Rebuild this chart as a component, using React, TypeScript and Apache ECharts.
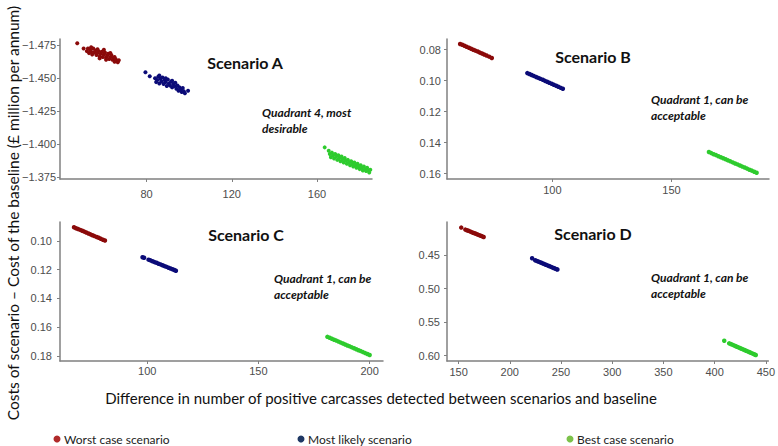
import React, { useEffect, useRef } from "react";
import * as echarts from "echarts";

// ---------- data ----------
const seriesNames = ["Worst case scenario", "Most likely scenario", "Best case scenario"];
const pointColors = ["#8b0a0a", "#0b0b78", "#2ecb2e"];
const legendColors = ["#b02a2a", "#1f3864", "#7cc24a"];

const panelTitles = ["Scenario A", "Scenario B", "Scenario C", "Scenario D"];
const panelNotes = [
  ["Quadrant 4, most", "desirable"],
  ["Quadrant 1, can be", "acceptable"],
  ["Quadrant 1, can be", "acceptable"],
  ["Quadrant 1, can be", "acceptable"],
];

const xTicksA = [80, 120, 160];
const xTicksB = [100, 150];
const xTicksC = [100, 150, 200];
const xTicksD = [150, 200, 250, 300, 350, 400, 450];
const yTicksA = [-1.475, -1.45, -1.425, -1.4, -1.375];
const yTicksB = [0.08, 0.1, 0.12, 0.14, 0.16];
const yTicksC = [0.1, 0.12, 0.14, 0.16, 0.18];
const yTicksD = [0.45, 0.5, 0.55, 0.6];

const xRangeA = [39.4, 185.8];
const xRangeB = [55.8, 190.9];
const xRangeC = [60.8, 206];
const xRangeD = [138.7, 452.5];
const yRangeA = [-1.4797, -1.3735];
const yRangeB = [0.0731, 0.1634];
const yRangeC = [0.0868, 0.1835];
const yRangeD = [0.401, 0.6079];

const worstA = [[47.5,-1.4765],[50.5,-1.4725],[52,-1.4705],[52.5,-1.4725],[53,-1.469],[53.5,-1.4715],[54,-1.47],[54.5,-1.468],[55,-1.4725],[55.5,-1.4695],[56,-1.471],[56.5,-1.4675],[57,-1.469],[57.5,-1.4705],[58,-1.4665],[58.5,-1.4685],[59,-1.47],[59.5,-1.466],[60,-1.468],[60.5,-1.4695],[61,-1.4655],[61.5,-1.467],[62,-1.4685],[62.5,-1.4645],[63,-1.466],[63.5,-1.4675],[64,-1.464],[64.5,-1.4655],[65,-1.4625],[65.5,-1.4645],[66,-1.463],[66.5,-1.462],[67,-1.4635],[54,-1.4735],[57,-1.472],[60,-1.4715],[63,-1.469],[58,-1.465],[61,-1.464],[65,-1.466]];
const likelyA = [[79.5,-1.4545],[81.5,-1.4515],[84,-1.45],[84.5,-1.447],[85,-1.4485],[85.5,-1.451],[86,-1.446],[86.5,-1.4495],[87,-1.4475],[87.5,-1.4505],[88,-1.4455],[88.5,-1.4485],[89,-1.447],[89.5,-1.444],[90,-1.449],[90.5,-1.446],[91,-1.4445],[91.5,-1.4475],[92,-1.443],[92.5,-1.4455],[93,-1.444],[93.5,-1.4465],[94,-1.442],[94.5,-1.4445],[95,-1.4405],[95.5,-1.443],[96,-1.4415],[96.5,-1.4395],[97,-1.4425],[97.5,-1.44],[98,-1.4385],[99.5,-1.4405],[86,-1.452],[89,-1.45],[92,-1.448]];
const bestA = [[163.6,-1.3975],[165.5,-1.395],[166,-1.3925],[166.5,-1.39],[167,-1.3935],[167.5,-1.3915],[168,-1.389],[168.5,-1.3925],[169,-1.3905],[169.5,-1.388],[170,-1.3915],[170.5,-1.3895],[171,-1.387],[171.5,-1.3905],[172,-1.3885],[172.5,-1.386],[173,-1.3895],[173.5,-1.3875],[174,-1.385],[174.5,-1.388],[175,-1.386],[175.5,-1.384],[176,-1.387],[176.5,-1.385],[177,-1.383],[177.5,-1.386],[178,-1.384],[178.5,-1.382],[179,-1.385],[179.5,-1.383],[180,-1.381],[180.5,-1.384],[181,-1.382],[181.5,-1.38],[182,-1.383],[182.5,-1.381],[183,-1.3795],[183.5,-1.382],[184,-1.38],[184.5,-1.3785],[185,-1.3805]];

const worstB = [[61.3,0.0763],[62.2,0.0768],[63.1,0.0775],[64.0,0.0781],[65.0,0.0787],[65.9,0.0794],[66.8,0.08],[67.7,0.0806],[68.7,0.0812],[69.6,0.0819],[70.5,0.0825],[71.4,0.0831],[72.4,0.0837],[73.5,0.0845],[74.6,0.0854]];
const likelyB = [[89.5,0.0951],[90.4,0.0957],[91.3,0.0963],[92.2,0.0969],[93.2,0.0976],[94.1,0.0982],[95.0,0.0988],[96.0,0.0994],[96.9,0.1001],[97.8,0.1007],[98.7,0.1013],[99.7,0.102],[100.6,0.1026],[101.6,0.1033],[102.5,0.1039],[103.5,0.1046],[104.4,0.1052]];
const bestB = [[165.7,0.146],[166.7,0.1467],[167.7,0.1474],[168.7,0.148],[169.7,0.1487],[170.7,0.1494],[171.7,0.15],[172.7,0.1507],[173.7,0.1514],[174.7,0.152],[175.7,0.1527],[176.7,0.1534],[177.7,0.154],[178.7,0.1547],[179.7,0.1554],[180.7,0.156],[181.7,0.1567],[182.7,0.1574],[183.7,0.158],[184.7,0.1587],[185.7,0.1594]];

const worstC = [[67.1,0.0905],[68.0,0.0911],[68.9,0.0917],[69.9,0.0923],[70.8,0.0929],[71.7,0.0935],[72.6,0.0941],[73.6,0.0948],[74.5,0.0954],[75.4,0.096],[76.3,0.0966],[77.3,0.0972],[78.2,0.0978],[79.1,0.0985],[80.1,0.0991],[81.0,0.0997]];
const likelyC = [[97.9,0.1113],[98.6,0.1117],[100.6,0.113],[101.5,0.1135],[102.4,0.1141],[103.3,0.1147],[104.2,0.1152],[105.1,0.1158],[106.0,0.1163],[106.9,0.1169],[107.8,0.1175],[108.7,0.118],[109.6,0.1186],[110.5,0.1192],[111.4,0.1197],[112.2,0.1202],[112.9,0.1207]];
const bestC = [[181,0.1667],[182,0.1673],[183,0.168],[184,0.1687],[185,0.1693],[186,0.17],[187,0.1707],[188,0.1713],[189,0.172],[190,0.1727],[191,0.1733],[192,0.174],[193,0.1746],[194,0.1753],[195,0.176],[196,0.1766],[197,0.1773],[198,0.178],[199,0.1786],[200,0.1793]];

const worstD = [[152.6,0.4093],[156.6,0.4123],[158.1,0.4132],[159.6,0.4141],[161.1,0.415],[162.6,0.416],[164.1,0.4169],[165.6,0.4178],[167.1,0.4187],[168.6,0.4197],[170.1,0.4206],[171.6,0.4215],[173.1,0.4224],[174.5,0.4233]];
const likelyD = [[221.8,0.4549],[224.8,0.4579],[226.3,0.4589],[227.8,0.4598],[229.3,0.4608],[230.8,0.4617],[232.3,0.4627],[233.8,0.4637],[235.3,0.4646],[236.8,0.4656],[238.3,0.4665],[239.8,0.4675],[241.3,0.4685],[242.8,0.4694],[244.3,0.4704],[245.5,0.4712],[246.5,0.4718]];
const bestD = [[409.4,0.5777],[414.2,0.5816],[415.7,0.5826],[417.2,0.5836],[418.7,0.5846],[420.2,0.5856],[421.7,0.5866],[423.2,0.5876],[424.7,0.5886],[426.2,0.5896],[427.7,0.5906],[429.2,0.5916],[430.7,0.5926],[432.2,0.5936],[433.7,0.5946],[435.2,0.5956],[436.7,0.5966],[438.2,0.5976],[439.3,0.5984],[440.2,0.599]];

const yTitle = "Costs of scenario \u2013 Cost of the baseline (\u00a3 million per annum)";
const xTitle = "Difference in number of positive carcasses detected between scenarios and baseline";

// ---------- layout ----------
const grids = [
  { left: 60, top: 39, width: 312, height: 140 },
  { left: 447, top: 39, width: 322, height: 140 },
  { left: 60, top: 222, width: 323, height: 139 },
  { left: 447, top: 222, width: 322, height: 139 },
];
const titlePos = [[245, 62], [593, 56], [246, 234], [593, 233]];
const notePos = [[262, 104], [651, 91], [274, 270], [651, 269]];
const xLabelMargin = [9, 5, 4, 5];
const yLabelMargin = [4, 6, 8, 7];

const SANS = "Lato, 'Open Sans', sans-serif";
const TICKFONT = "'Liberation Sans', Arial, sans-serif";
const AXIS_COLOR = "#808080";

export default function App() {
  const ref = useRef<HTMLDivElement>(null);

  useEffect(() => {
    if (!ref.current) return;
    const chart = echarts.init(ref.current, null, { renderer: "svg" });

    const xTicks = [xTicksA, xTicksB, xTicksC, xTicksD];
    const yTicks = [yTicksA, yTicksB, yTicksC, yTicksD];
    const xRanges = [xRangeA, xRangeB, xRangeC, xRangeD];
    const yRanges = [yRangeA, yRangeB, yRangeC, yRangeD];
    const yDecimals = [3, 2, 2, 2];
    const panelData = [
      [worstA, likelyA, bestA],
      [worstB, likelyB, bestB],
      [worstC, likelyC, bestC],
      [worstD, likelyD, bestD],
    ];

    const axisCommon = {
      axisLine: { show: true, onZero: false, lineStyle: { color: AXIS_COLOR, width: 1.5 } },
      axisTick: { show: true, length: 3, lineStyle: { color: AXIS_COLOR, width: 1 } },
      splitLine: { show: false },
    };

    const xAxis = xTicks.map((t, i) => ({
      type: "value",
      gridIndex: i,
      min: xRanges[i][0],
      max: xRanges[i][1],
      ...axisCommon,
      axisTick: { ...axisCommon.axisTick, customValues: t },
      axisLabel: {
        customValues: t,
        color: "#4d4d4d",
        fontFamily: TICKFONT,
        fontSize: 11,
        margin: xLabelMargin[i],
        formatter: (v: number) => String(v),
      },
    }));

    const yAxis = yTicks.map((t, i) => ({
      type: "value",
      gridIndex: i,
      inverse: true,
      min: yRanges[i][0],
      max: yRanges[i][1],
      ...axisCommon,
      axisTick: { ...axisCommon.axisTick, customValues: t },
      axisLabel: {
        customValues: t,
        color: "#4d4d4d",
        fontFamily: TICKFONT,
        fontSize: 11,
        margin: yLabelMargin[i],
        formatter: (v: number) => {
          const s = Math.abs(v).toFixed(yDecimals[i]);
          return v < 0 ? "\u2212" + s : s;
        },
      },
    }));

    const series: any[] = [];
    panelData.forEach((sets, p) => {
      sets.forEach((d, k) => {
        series.push({
          type: "scatter",
          name: seriesNames[k],
          xAxisIndex: p,
          yAxisIndex: p,
          data: d,
          symbolSize: p === 0 ? 4 : 4.5,
          itemStyle: { color: pointColors[k], opacity: 1 },
          silent: true,
        });
      });
    });

    const graphic: any[] = [];
    panelTitles.forEach((t, i) => {
      graphic.push({
        type: "text",
        x: titlePos[i][0],
        y: titlePos[i][1],
        style: {
          text: t,
          fontFamily: SANS,
          fontWeight: "bold",
          fontSize: 16,
          fill: "#111",
          textAlign: "center",
          textVerticalAlign: "middle",
        },
      });
      graphic.push({
        type: "text",
        x: notePos[i][0],
        y: notePos[i][1],
        style: {
          text: panelNotes[i].join("\n"),
          fontFamily: SANS,
          fontWeight: "bold",
          fontStyle: "italic",
          fontSize: 12,
          lineHeight: 16,
          fill: "#111",
          textAlign: "left",
          textVerticalAlign: "top",
        },
      });
    });
    graphic.push({
      type: "text",
      x: 13,
      y: 213,
      rotation: Math.PI / 2,
      style: {
        text: yTitle,
        fontFamily: SANS,
        fontSize: 15.5,
        fill: "#111",
        textAlign: "center",
        textVerticalAlign: "middle",
      },
    });
    graphic.push({
      type: "text",
      x: 381,
      y: 398,
      style: {
        text: xTitle,
        fontFamily: SANS,
        fontSize: 15,
        fill: "#111",
        textAlign: "center",
        textVerticalAlign: "middle",
      },
    });
    const legendX = [57, 301, 570];
    seriesNames.forEach((n, k) => {
      graphic.push({
        type: "circle",
        shape: { cx: legendX[k], cy: 439, r: 3.5 },
        style: { fill: legendColors[k] },
      });
      graphic.push({
        type: "text",
        x: legendX[k] + 7,
        y: 439,
        style: {
          text: n,
          fontFamily: SANS,
          fontSize: 12,
          fill: "#222",
          textAlign: "left",
          textVerticalAlign: "middle",
        },
      });
    });

    chart.setOption({
      animation: false,
      backgroundColor: "#ffffff",
      grid: grids.map((g) => ({ ...g, containLabel: false })),
      xAxis,
      yAxis,
      series,
      graphic,
    });

    return () => chart.dispose();
  }, []);

  return (
    <div
      ref={ref}
      style={{ position: "absolute", left: 0, top: 0, width: 778, height: 446 }}
    />
  );
}
